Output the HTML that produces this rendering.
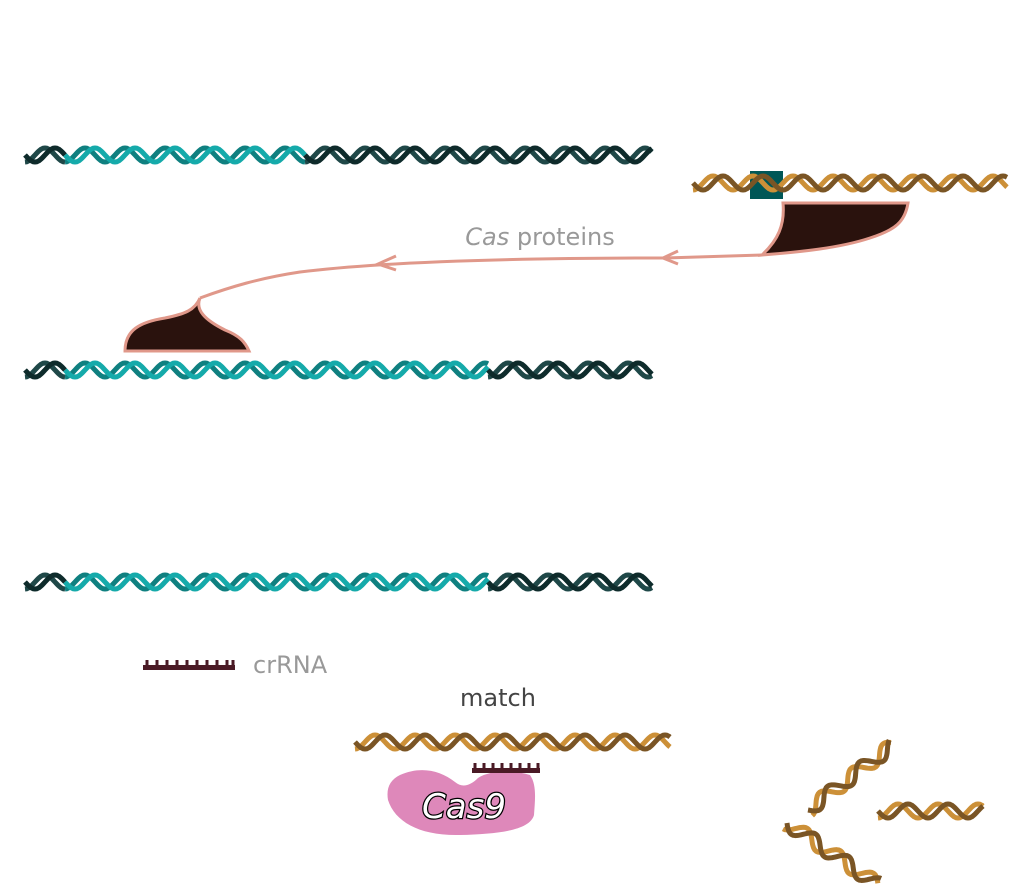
<!DOCTYPE html>
<html><head><meta charset="utf-8"><style>
html,body{margin:0;padding:0;background:#fff;width:1026px;height:888px;overflow:hidden}
svg{display:block}
text{font-family:"DejaVu Sans","Liberation Sans",sans-serif}
</style></head><body>
<svg id="s" width="1026" height="888" viewBox="0 0 1026 888">
<rect x="750" y="171" width="33" height="28" fill="#005757"/>
<g id="helices"></g>
<path d="M783,203 L908,203 C905,222 895,230 870,238 C840,248 800,252 762,255 C778,240 785,225 783,203 Z" fill="#2a120d" stroke="#e0988a" stroke-width="3"/>
<path d="M762,255 L665,258 C500,258 380,262 300,272 C260,278 230,287 200,298" fill="none" stroke="#e0988a" stroke-width="3"/>
<path d="M678,251 L663,258 L678,264" fill="none" stroke="#e0988a" stroke-width="3"/>
<path d="M396,256 L378,264 L396,270" fill="none" stroke="#e0988a" stroke-width="3"/>
<path d="M125,351 C125,330 140,322 165,318 C185,314 195,310 200,298 C195,310 205,320 225,330 C240,336 245,342 249,351 Z" fill="#2a120d" stroke="#e0988a" stroke-width="3"/>
<text x="540" y="245" font-size="24" fill="#999" text-anchor="middle"><tspan font-style="italic">Cas</tspan> proteins</text>
<g>
<rect x="143" y="665" width="92" height="5" fill="#4a1a25"/>
<path d="M147,665V660M157,665V660M167,665V660M177,665V660M187,665V660M197,665V660M207,665V660M217,665V660M227,665V660M233,665V660" stroke="#4a1a25" stroke-width="3"/>
</g>
<text x="253" y="673" font-size="24" fill="#999">crRNA</text>
<text x="498" y="706" font-size="24" fill="#444" text-anchor="middle">match</text>
<path d="M400,775 C420,766 440,770 455,782 C462,788 470,786 478,778 C490,770 515,770 530,775 C537,785 535,800 534,815 C530,830 500,834 460,835 C420,836 395,822 388,800 C386,788 390,780 400,775 Z" fill="#de88ba"/>
<g>
<rect x="472" y="768" width="68" height="5" fill="#4a1a25"/>
<path d="M475,768V763M484,768V763M493,768V763M502,768V763M511,768V763M520,768V763M529,768V763M538,768V763" stroke="#4a1a25" stroke-width="3"/>
</g>
<text x="464" y="818" font-size="34" font-style="italic" fill="#fff" stroke="#000" stroke-width="2.5" paint-order="stroke" text-anchor="middle">Cas9</text>
</svg>
<script>
const helixSegments = [
 [25,65,155,'dark',0],[65,305,155,'teal',0],[305,652,155,'dark',0],
 [25,65,370,'dark',0],[65,488,370,'teal',0],[488,652,370,'dark',0],
 [25,65,582,'dark',0],[65,488,582,'teal',0],[488,652,582,'dark',0],
 [693,1007,183,'gold',0],[355,670,742,'gold',0],
 [878,983,811,'gold',0]
];
const rotatedHelices = [[808,810,893,745],[787,823,877,884]];
const palette = {dark:['#0e2b2b','#1f4848'],teal:['#15aaaa','#0f8080'],gold:['#7a5525','#cc9038']};
const g = document.getElementById('helices');
const NS='http://www.w3.org/2000/svg';
function strand(x0,x1,y,phase){
  let d='';
  for(let x=x0;x<=x1;x+=1){
    const yy=y+7*Math.sin((x-x0)*2*Math.PI/40+phase);
    d+=(x===x0?'M':'L')+x+','+yy.toFixed(1);
  }
  return d;
}
function helix(x0,x1,y,kind,parent,name){
  const c=palette[kind];
  [[0.5*Math.PI,c[1]],[0,c[0]]].forEach(([ph,col],i)=>{
    const p=document.createElementNS(NS,'path');
    p.setAttribute('d',strand(x0,x1,y,ph));
    p.setAttribute('fill','none');p.setAttribute('stroke',col);p.setAttribute('stroke-width','5');
    
    
    parent.appendChild(p);
  });
}
helixSegments.forEach((s,i)=>helix(s[0],s[1],s[2],s[3],g,'helix-'+i));
rotatedHelices.forEach((r,i)=>{
  const len=Math.hypot(r[2]-r[0],r[3]-r[1]);
  const ang=Math.atan2(r[3]-r[1],r[2]-r[0])*180/Math.PI;
  const gg=document.createElementNS(NS,'g');
  gg.setAttribute('transform','translate('+r[0]+','+r[1]+') rotate('+ang+')');
  
  
  g.appendChild(gg);
  helix(0,Math.round(len),0,'gold',gg,'fragment-'+i);
});
</script>
</body></html>
